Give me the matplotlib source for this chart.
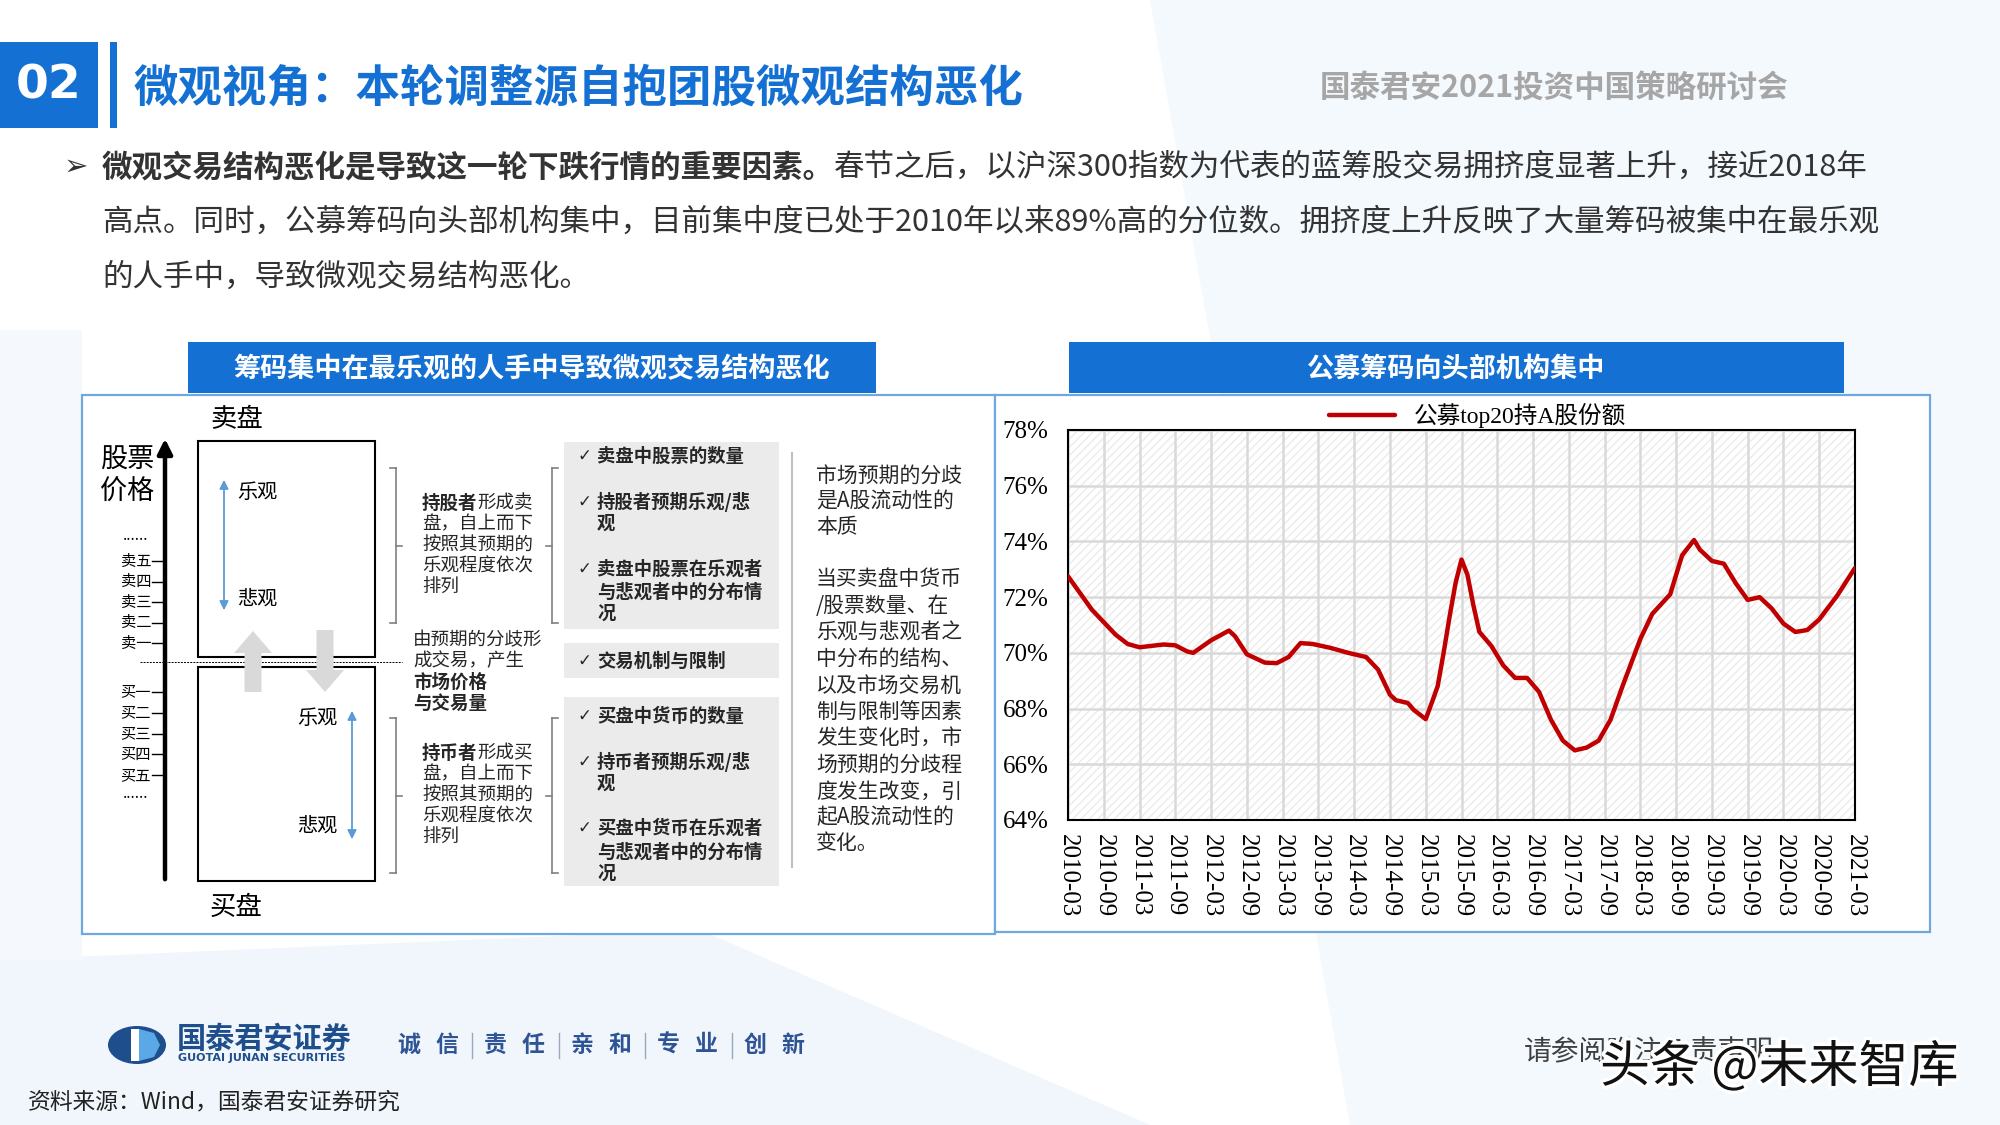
import matplotlib
matplotlib.use('Agg')
import matplotlib.pyplot as plt
from matplotlib.patches import Rectangle, Polygon, FancyArrow, Ellipse
import matplotlib.patheffects as pe

plt.rcParams['font.family'] = ['Noto Sans CJK SC', 'DejaVu Sans']

# chart data: months since 2010-03, share of top20 funds (%)
months = [0, 4, 8, 10, 12, 16, 18, 20, 21, 24, 27, 28, 30, 33, 35, 37, 39, 41, 44, 47,
          50, 52, 54, 55, 57, 58, 60, 61, 62, 63, 64, 65, 66, 67, 68, 69, 71, 73, 75, 77,
          79, 81, 83, 85, 87, 89, 91, 93, 96, 98, 101, 103, 105, 106, 108, 110, 112, 114,
          116, 118, 120, 122, 124, 126, 129, 132]
share = [72.75, 71.55, 70.65, 70.32, 70.2, 70.3, 70.27, 70.05, 70.0, 70.45, 70.8, 70.6,
         69.95, 69.65, 69.63, 69.85, 70.35, 70.32, 70.18, 70.0, 69.85, 69.4, 68.5, 68.3,
         68.2, 67.95, 67.62, 68.2, 68.8, 70.0, 71.3, 72.5, 73.35, 72.8, 71.7, 70.75, 70.25,
         69.55, 69.1, 69.1, 68.6, 67.6, 66.85, 66.5, 66.6, 66.85, 67.6, 68.8, 70.5, 71.4,
         72.1, 73.5, 74.05, 73.7, 73.3, 73.2, 72.5, 71.9, 72.0, 71.6, 71.05, 70.75, 70.82,
         71.2, 72.05, 73.05]
xlabels = ['2010-03', '2010-09', '2011-03', '2011-09', '2012-03', '2012-09', '2013-03',
           '2013-09', '2014-03', '2014-09', '2015-03', '2015-09', '2016-03', '2016-09',
           '2017-03', '2017-09', '2018-03', '2018-09', '2019-03', '2019-09', '2020-03',
           '2020-09', '2021-03']
yticks = [64, 66, 68, 70, 72, 74, 76, 78]
ylabels = ['64%', '66%', '68%', '70%', '72%', '74%', '76%', '78%']
series_name = '公募top20持A股份额'

BLUE = '#1570d4'
fig = plt.figure(figsize=(20, 11.25), dpi=100)
bg = fig.add_axes([0, 0, 1, 1])
bg.set_xlim(0, 2000)
bg.set_ylim(1125, 0)
bg.axis('off')
renderer = fig.canvas.get_renderer()


def runs(x, y, parts, **kw):
    # draw text pieces one after another (mixed bold / normal)
    for s, w in parts:
        t = bg.text(x, y, s, fontweight=w, **kw)
        x += t.get_window_extent(renderer).width
    return x


# background tint
bg.add_patch(Polygon([(1150, 0), (2000, 0), (2000, 1125), (1350, 1125)], fc='#f4f9fd', ec='none', zorder=0))
bg.add_patch(Polygon([(0, 960), (700, 930), (1150, 1125), (0, 1125)], fc='#f0f6fc', ec='none', zorder=0))
bg.add_patch(Polygon([(0, 330), (82, 330), (82, 960), (0, 960)], fc='#f5f9fd', ec='none', zorder=0))

# header
bg.add_patch(Rectangle((0, 42), 98, 86, fc=BLUE, ec='none'))
bg.text(49, 86, '02', color='white', fontsize=34, fontweight='bold', family='DejaVu Sans',
        ha='center', va='center')
bg.add_patch(Rectangle((110, 42), 7, 86, fc=BLUE, ec='none'))
bg.text(134, 89, '微观视角：本轮调整源自抱团股微观结构恶化', color=BLUE, fontsize=32,
        fontweight='bold', va='center')
bg.text(1320, 88, '国泰君安2021投资中国策略研讨会', color='#a6a6a6', fontsize=22,
        fontweight='bold', va='center')

# bullet paragraph
bg.text(64, 167, '➢', fontsize=21, color='#333333', va='center', family=['DejaVu Sans'])
txt = dict(fontsize=22, color='#333333', va='center')
runs(102, 167, [('微观交易结构恶化是导致这一轮下跌行情的重要因素。', 'bold'),
                ('春节之后，以沪深300指数为代表的蓝筹股交易拥挤度显著上升，接近2018年', 'normal')], **txt)
runs(102, 222, [('高点。同时，公募筹码向头部机构集中，目前集中度已处于2010年以来89%高的分位数。拥挤度上升反映了大量筹码被集中在最乐观', 'normal')], **txt)
runs(102, 277, [('的人手中，导致微观交易结构恶化。', 'normal')], **txt)

# panels
bg.add_patch(Rectangle((82, 395), 913, 539, fc='white', ec='#6fa8dc', lw=1.6, zorder=1))
bg.add_patch(Rectangle((995, 395), 935, 537, fc='white', ec='#6fa8dc', lw=1.6, zorder=1))
bg.add_patch(Rectangle((188, 342), 688, 51, fc=BLUE, ec='none', zorder=2))
bg.add_patch(Rectangle((1069, 342), 775, 51, fc=BLUE, ec='none', zorder=2))
bg.text(532, 369, '筹码集中在最乐观的人手中导致微观交易结构恶化', color='white', fontsize=19.5,
        fontweight='bold', ha='center', va='center', zorder=3)
bg.text(1456, 369, '公募筹码向头部机构集中', color='white', fontsize=19.5,
        fontweight='bold', ha='center', va='center', zorder=3)

# ---- left diagram ----
Z = 4
bg.text(210, 420, '卖盘', fontsize=19, va='center', zorder=Z)
bg.text(210, 907, '买盘', fontsize=19, va='center', zorder=Z)
bg.text(127, 460, '股票', fontsize=19.5, ha='center', va='center', zorder=Z)
bg.text(127, 492, '价格', fontsize=19.5, ha='center', va='center', zorder=Z)
bg.annotate('', xy=(165, 436), xytext=(165, 882),
            arrowprops=dict(arrowstyle='-|>', lw=3.2, color='black', mutation_scale=22), zorder=Z)
sell_lv = ['卖五', '卖四', '卖三', '卖二', '卖一']
buy_lv = ['买一', '买二', '买三', '买四', '买五']
for i, s in enumerate(sell_lv):
    yy = 561 + i * 20.5
    bg.plot([152, 165], [yy, yy], color='black', lw=1, zorder=Z)
    bg.text(151, yy, s, fontsize=11, ha='right', va='center', zorder=Z)
for i, s in enumerate(buy_lv):
    yy = 692 + i * 20.8
    bg.plot([152, 165], [yy, yy], color='black', lw=1, zorder=Z)
    bg.text(151, yy, s, fontsize=11, ha='right', va='center', zorder=Z)
bg.text(136, 536, '......', fontsize=11, ha='center', va='center', zorder=Z)
bg.text(136, 793, '......', fontsize=11, ha='center', va='center', zorder=Z)

bg.add_patch(Rectangle((198, 441), 177, 216, fc='white', ec='black', lw=1.5, zorder=Z))
bg.add_patch(Rectangle((198, 667), 177, 214, fc='white', ec='black', lw=1.5, zorder=Z))
bg.plot([140, 402], [662, 662], color='black', lw=0.7, ls=(0, (2, 1.2)), zorder=Z)

arrow_blue = dict(arrowstyle='<|-|>', color='#5b9bd5', lw=1.3, mutation_scale=13)
bg.annotate('', xy=(224, 477), xytext=(224, 613), arrowprops=arrow_blue, zorder=Z + 1)
bg.annotate('', xy=(352, 708), xytext=(352, 842), arrowprops=arrow_blue, zorder=Z + 1)
bg.text(237, 492, '乐观', fontsize=14.5, va='center', zorder=Z + 1)
bg.text(237, 599, '悲观', fontsize=14.5, va='center', zorder=Z + 1)
bg.text(297, 718, '乐观', fontsize=14.5, va='center', zorder=Z + 1)
bg.text(297, 826, '悲观', fontsize=14.5, va='center', zorder=Z + 1)
bg.add_patch(FancyArrow(253, 692, 0, -61, width=17, head_width=38, head_length=22,
                        length_includes_head=True, fc='#d9d9d9', ec='none', zorder=Z + 1))
bg.add_patch(FancyArrow(325, 630, 0, 62, width=17, head_width=38, head_length=22,
                        length_includes_head=True, fc='#d9d9d9', ec='none', zorder=Z + 1))


def bracket(x, y0, y1, end_dir, tick_dir):
    c = '#808080'
    bg.plot([x, x], [y0, y1], color=c, lw=1.2, zorder=Z)
    bg.plot([x, x + 6 * end_dir], [y0, y0], color=c, lw=1.2, zorder=Z)
    bg.plot([x, x + 6 * end_dir], [y1, y1], color=c, lw=1.2, zorder=Z)
    ym = (y0 + y1) / 2
    bg.plot([x, x + 6 * tick_dir], [ym, ym], color=c, lw=1.2, zorder=Z)


for off in (0, 250):
    bracket(396, 468 + off, 623 + off, -1, 1)
    bracket(552, 468 + off, 623 + off, 1, -1)

small = dict(fontsize=13.3, color='#262626', va='center', zorder=Z)
runs(422, 503, [('持股者', 'bold'), ('形成卖', 'normal')], **small)
runs(422, 753, [('持币者', 'bold'), ('形成买', 'normal')], **small)
for off in (0, 250):
    for j, s in enumerate(['盘，自上而下', '按照其预期的', '乐观程度依次', '排列']):
        runs(422, 524 + off + j * 21.3, [(s, 'normal')], **small)
runs(413, 640, [('由预期的分歧形', 'normal')], **small)
runs(413, 661, [('成交易，产生', 'normal')], **small)
runs(413, 682, [('市场价格', 'bold')], **small)
runs(413, 703, [('与交易量', 'bold')], **small)

# gray condition boxes
bg.add_patch(Rectangle((564, 442), 215, 187, fc='#ebebeb', ec='none', zorder=2))
bg.add_patch(Rectangle((564, 643), 215, 35, fc='#ebebeb', ec='none', zorder=2))
bg.add_patch(Rectangle((564, 697), 215, 189, fc='#ebebeb', ec='none', zorder=2))
items = [(456, '卖盘中股票的数量', True), (502, '持股者预期乐观/悲', True), (523, '观', False),
         (569, '卖盘中股票在乐观者', True), (592, '与悲观者中的分布情', False), (613, '况', False),
         (661, '交易机制与限制', True),
         (716, '买盘中货币的数量', True), (762, '持币者预期乐观/悲', True), (783, '观', False),
         (828, '买盘中货币在乐观者', True), (852, '与悲观者中的分布情', False), (873, '况', False)]
for yy, s, chk in items:
    if chk:
        bg.text(577, yy, '✓', fontsize=12, color='#262626', va='center', fontweight='bold',
                family=['DejaVu Sans'], zorder=Z)
    bg.text(597, yy, s, fontsize=13.2, fontweight='bold', color='#262626', va='center', zorder=Z)

bg.plot([792, 792], [453, 867], color='#bfbfbf', lw=1.5, zorder=Z)
right_lines = [(477, '市场预期的分歧'), (502, '是A股流动性的'), (527, '本质'),
               (579, '当买卖盘中货币'), (606, '/股票数量、在'), (633, '乐观与悲观者之'),
               (660, '中分布的结构、'), (686, '以及市场交易机'), (712, '制与限制等因素'),
               (738, '发生变化时，市'), (765, '场预期的分歧程'), (792, '度发生改变，引'),
               (817, '起A股流动性的'), (843, '变化。')]
for yy, s in right_lines:
    bg.text(816, yy, s, fontsize=15, color='#262626', va='center', zorder=Z)

# ---- right chart ----
ax = fig.add_axes([1068 / 2000, 1 - 820 / 1125, (1855 - 1068) / 2000, (820 - 430) / 1125])
ax.set_zorder(5)
ax.set_facecolor('white')
ax.add_patch(Rectangle((0, 0), 1, 1, transform=ax.transAxes, fc='white', ec='#ebebeb',
                       hatch='////', lw=0, zorder=0))
ax.plot(months, share, color='#c00000', lw=3.2, label=series_name, zorder=3,
        solid_joinstyle='round', solid_capstyle='round')
ax.set_xlim(0, 132)
ax.set_ylim(64, 78)
ax.set_xticks(range(0, 133, 6))
ax.set_xticklabels(xlabels, rotation=-90, va='top', ha='center')
ax.set_yticks(yticks)
ax.set_yticklabels(ylabels)
ax.grid(True, color='#d9d9d9', lw=1.8, zorder=1)
ax.set_axisbelow(True)
ax.tick_params(length=0, labelsize=18)
ax.tick_params(axis='x', pad=10)
ax.tick_params(axis='y', pad=14)
for lbl in ax.get_xticklabels() + ax.get_yticklabels():
    lbl.set_family('Liberation Serif')
for sp in ax.spines.values():
    sp.set_color('black')
    sp.set_linewidth(1.5)
ax.legend(loc='lower center', bbox_to_anchor=(0.52, 0.975), frameon=False, handlelength=2.8,
          borderaxespad=0.1, prop=dict(family=['Liberation Serif', 'Noto Sans CJK SC'], size=17))

# ---- footer ----
bg.add_patch(Ellipse((137, 1045), 58, 38, fc='#1f4e8c', ec='none', zorder=3))
bg.add_patch(Polygon([(131, 1029), (139, 1029), (139, 1061), (131, 1061)], fc='white', ec='none', zorder=4))
bg.add_patch(Polygon([(139, 1029), (154, 1033), (160, 1045), (154, 1057), (139, 1061)],
                     fc='#5aa9e6', ec='none', zorder=4))
bg.text(177, 1039, '国泰君安证券', fontsize=21, color='#1f4e8c', fontweight='bold', va='center')
bg.text(178, 1058, 'GUOTAI JUNAN SECURITIES', fontsize=8, color='#1f4e8c', fontweight='bold',
        va='center', family='DejaVu Sans')
slogan = ['诚信', '责任', '亲和', '专业', '创新']
for i, pair in enumerate(slogan):
    x0 = 409 + i * 86.5
    bg.text(x0, 1045, pair[0], fontsize=16.5, color='#2f5496', fontweight='bold', ha='center', va='center')
    bg.text(x0 + 38, 1045, pair[1], fontsize=16.5, color='#2f5496', fontweight='bold', ha='center', va='center')
    if i < len(slogan) - 1:
        bg.plot([x0 + 63, x0 + 63], [1033, 1058], color='#9aa8bd', lw=1)
bg.text(28, 1102, '资料来源：Wind，国泰君安证券研究', fontsize=16.4, color='#222222', va='center')
bg.text(1524, 1052, '请参阅附注免责声明', fontsize=20, color='#404040', va='center')
bg.text(1600, 1068, '头条 @未来智库', fontsize=36, color='#111111', va='center', zorder=6,
        path_effects=[pe.withStroke(linewidth=5, foreground='white')])

fig.savefig('out.png', dpi=100)
